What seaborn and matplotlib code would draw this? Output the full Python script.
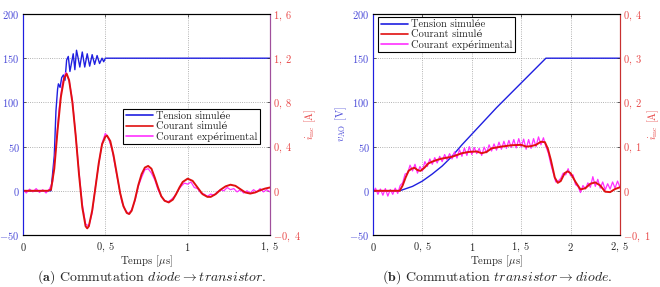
import numpy as np
import seaborn as sns
import matplotlib.pyplot as plt
from matplotlib.lines import Line2D

sns.set_style("white")
plt.rcParams['font.family'] = ['cmr10', 'DejaVu Serif']
plt.rcParams['mathtext.fontset'] = 'cm'
plt.rcParams['axes.unicode_minus'] = False

BLUE = '#1f1fe0'
RED = '#e01010'
MAGENTA = '#ff30ff'
BLUE_TXT = '#4a4ad8'
RED_TXT = '#e84848'

# ---------------- (a) commutation diode -> transistor ----------------
t_va = [0, 0.17, 0.19, 0.20, 0.21, 0.215, 0.225, 0.235, 0.245, 0.255, 0.265, 0.275,
        0.285, 0.295, 0.305, 0.315, 0.325, 0.335, 0.345, 0.36, 0.375, 0.39, 0.405,
        0.42, 0.435, 0.45, 0.465, 0.48, 0.49, 0.5, 1.5]
v_a = [0, 0, 40, 90, 115, 121, 117, 128, 131, 125, 148, 152,
       135, 145, 155, 137, 159, 150, 140, 157, 140, 155, 141,
       154, 143, 153, 144, 150, 146, 150, 150]

t_ia = [0, 0.15, 0.17, 0.19, 0.21, 0.23, 0.25, 0.265, 0.28, 0.30, 0.32, 0.34, 0.36,
        0.38, 0.39, 0.40, 0.42, 0.44, 0.46, 0.48, 0.50, 0.51, 0.53, 0.55, 0.57, 0.59,
        0.61, 0.63, 0.645, 0.66, 0.68, 0.70, 0.72, 0.74, 0.76, 0.78, 0.80, 0.82, 0.84,
        0.86, 0.885, 0.91, 0.93, 0.95, 0.97, 1.0, 1.03, 1.06, 1.09, 1.12, 1.14, 1.17,
        1.20, 1.23, 1.26, 1.29, 1.32, 1.35, 1.38, 1.41, 1.44, 1.47, 1.5]
i_sim_a = [0, 0, 0.01, 0.2, 0.55, 0.85, 1.02, 1.06, 1.0, 0.8, 0.5, 0.15, -0.15,
           -0.32, -0.34, -0.32, -0.18, 0.03, 0.25, 0.42, 0.49, 0.5, 0.45, 0.32, 0.15, -0.02,
           -0.14, -0.2, -0.21, -0.18, -0.08, 0.05, 0.15, 0.21, 0.225, 0.2, 0.12, 0.03, -0.05,
           -0.09, -0.105, -0.08, -0.03, 0.03, 0.08, 0.11, 0.09, 0.03, -0.03, -0.055, -0.055, -0.03,
           0.01, 0.04, 0.055, 0.045, 0.015, -0.015, -0.025, -0.015, 0.005, 0.02, 0.03]

# measured current, sampled every 0.02 us
i_exp_a = [0.01, -0.02, 0.015, -0.01, 0.02, -0.015, 0.01, -0.02, 0.015, 0.08,
           0.4, 0.75, 0.98, 1.07, 1.0, 0.82, 0.5, 0.17, -0.12, -0.3,
           -0.32, -0.2, 0.04, 0.24, 0.43, 0.52, 0.47, 0.38, 0.22, 0.06,
           -0.1, -0.17, -0.21, -0.17, -0.09, 0.04, 0.12, 0.19, 0.2, 0.16,
           0.1, 0.01, -0.05, -0.09, -0.1, -0.08, -0.05, 0.0, 0.04, 0.07,
           0.06, 0.08, 0.03, 0.02, -0.02, -0.03, -0.05, -0.03, -0.04, -0.01,
           0.01, 0.0, 0.03, 0.01, 0.02, -0.01, 0.01, -0.02, 0.0, -0.02,
           0.01, -0.01, 0.02, -0.01, 0.01, -0.01]
t_exp_a = np.linspace(0, 1.5, len(i_exp_a))

# ---------------- (b) commutation transistor -> diode ----------------
t_vb = [0, 0.27, 0.4, 0.5, 0.6, 0.7, 0.8, 0.9, 1.0, 1.25, 1.5, 1.75, 2.5]
v_b = [0, 0, 5, 11, 19, 28, 39, 52, 64, 94, 122, 150, 150]

t_ib = [0, 0.27, 0.3, 0.33, 0.36, 0.39, 0.42, 0.45, 0.48, 0.52, 0.56, 0.6, 0.65, 0.7,
        0.8, 0.9, 0.97, 1.05, 1.1, 1.15, 1.2, 1.3, 1.4, 1.5, 1.55, 1.6, 1.65, 1.7, 1.74,
        1.77, 1.8, 1.84, 1.87, 1.9, 1.94, 1.97, 2.0, 2.05, 2.1, 2.15, 2.2, 2.25, 2.3,
        2.35, 2.4, 2.45, 2.5]
i_sim_b = [0, 0, 0.012, 0.03, 0.045, 0.05, 0.052, 0.047, 0.045, 0.052, 0.062, 0.066, 0.07, 0.073,
           0.077, 0.085, 0.088, 0.089, 0.085, 0.088, 0.096, 0.1, 0.103, 0.104, 0.1, 0.101, 0.104, 0.111, 0.11,
           0.095, 0.07, 0.03, 0.018, 0.022, 0.04, 0.044, 0.04, 0.02, 0.003, 0.006, 0.016, 0.019, 0.012,
           -0.002, -0.003, 0.004, 0.008]

# measured current, sampled every 0.025 us
i_exp_b = [-0.005, 0.006, -0.008, 0.004, -0.01, 0.005, -0.012, 0.003, -0.008, 0.006,
           -0.006, 0.012, 0.018, 0.038, 0.040, 0.058, 0.045, 0.060, 0.040, 0.055,
           0.045, 0.066, 0.055, 0.072, 0.060, 0.075, 0.063, 0.078, 0.066, 0.082,
           0.070, 0.084, 0.072, 0.088, 0.074, 0.093, 0.078, 0.097, 0.080, 0.100,
           0.082, 0.098, 0.084, 0.096, 0.080, 0.099, 0.086, 0.104, 0.090, 0.106,
           0.092, 0.110, 0.094, 0.112, 0.096, 0.114, 0.098, 0.116, 0.097, 0.118,
           0.099, 0.117, 0.094, 0.116, 0.096, 0.118, 0.100, 0.122, 0.104, 0.120,
           0.100, 0.085, 0.060, 0.040, 0.020, 0.022, 0.028, 0.040, 0.036, 0.050,
           0.034, 0.036, 0.014, 0.010, -0.004, 0.012, 0.004, 0.018, 0.008, 0.032,
           0.010, 0.026, 0.006, 0.020, 0.002, 0.016, 0.004, 0.020, 0.006, 0.022,
           0.008]
t_exp_b = np.linspace(0, 2.5, len(i_exp_b))

labels = ['Tension simulée', 'Courant simulé', 'Courant expérimental']


def fmt(v):
    s = f"{v:g}".replace('.', r',\ ')
    return f"${s}$"


def panel(ax, t_v, v, t_i, i_sim, t_e, i_exp, xmax, xticks, rlim, rticks,
          rspine, vlabel, leg_anchor, rlabel_x):
    sns.lineplot(x=t_v, y=v, ax=ax, color=BLUE, linewidth=1.0, sort=False)
    ax2 = ax.twinx()
    sns.lineplot(x=t_e, y=i_exp, ax=ax2, color=MAGENTA, linewidth=0.9, sort=False)
    sns.lineplot(x=t_i, y=i_sim, ax=ax2, color=RED, linewidth=1.4, sort=False)

    ax.set_xlim(0, xmax)
    ax.set_ylim(-50, 200)
    ax2.set_ylim(*rlim)
    yt = [-50, 0, 50, 100, 150, 200]
    ax.set_xticks(xticks)
    ax.set_xticklabels([fmt(x) for x in xticks], fontsize=7.5)
    ax.set_yticks(yt)
    ax.set_yticklabels([fmt(y) for y in yt], fontsize=7.5, color=BLUE_TXT)
    ax2.set_yticks(rticks)
    ax2.set_yticklabels([fmt(y) for y in rticks], fontsize=7.5, color=RED_TXT)
    ax.grid(True, linestyle=':', color='#999999', linewidth=0.6)
    ax.tick_params(direction='in', length=2.5, width=0.5, top=True, pad=2.5)
    ax.tick_params(axis='x', pad=4)
    ax2.tick_params(direction='in', length=2.5, width=0.5, pad=2.5)
    ax.set_xlabel(r"Temps [$\mu$s]", fontsize=7.8, labelpad=0)
    ax.set_ylabel(vlabel, fontsize=7.8, color=BLUE_TXT, labelpad=0)
    ax2.set_ylabel(r"$i_{\mathrm{mc}}$ [A]", fontsize=7.5, color=RED_TXT)
    ax2.yaxis.set_label_coords(rlabel_x, 0.5)
    for a in (ax, ax2):
        for sp in a.spines.values():
            sp.set_color('black')
            sp.set_linewidth(0.8)
        a.spines['left'].set_color(BLUE)
        a.spines['right'].set_color(rspine)

    handles = [Line2D([], [], color=c, linewidth=1.2) for c in (BLUE, RED, MAGENTA)]
    leg = ax2.legend(handles, labels, loc='upper left', bbox_to_anchor=leg_anchor,
                     fontsize=7.5, frameon=True, fancybox=False, edgecolor='black',
                     framealpha=1, borderpad=0.25, labelspacing=0.05,
                     handlelength=2.6, handletextpad=0.3, borderaxespad=0)
    leg.get_frame().set_linewidth(0.8)
    return ax2


fig = plt.figure(figsize=(6.6, 2.87), dpi=100)
ax_a = fig.add_axes([23 / 660, 1 - 235 / 287, 247 / 660, 221 / 287])
ax_b = fig.add_axes([373 / 660, 1 - 235 / 287, 247 / 660, 221 / 287])

panel(ax_a, t_va, v_a, t_ia, i_sim_a, t_exp_a, i_exp_a, 1.5, [0, 0.5, 1, 1.5],
      (-0.4, 1.6), [-0.4, 0, 0.4, 0.8, 1.2, 1.6], '#a04f9c',
      '', (0.405, 0.57), 1.13)
panel(ax_b, t_vb, v_b, t_ib, i_sim_b, t_exp_b, i_exp_b, 2.5,
      [0, 0.5, 1, 1.5, 2, 2.5], (-0.1, 0.4), [-0.1, 0, 0.1, 0.2, 0.3, 0.4], '#c83030',
      r"$v_{\mathrm{AO}}$ [V]", (0.02, 0.986), 1.105)

fig.text(152 / 660, 1 - 277 / 287,
         r"$\mathbf{(a)}$ Commutation $\mathit{diode} \rightarrow \mathit{transistor}$.",
         ha='center', va='center', fontsize=10)
fig.text(497 / 660, 1 - 277 / 287,
         r"$\mathbf{(b)}$ Commutation $\mathit{transistor} \rightarrow \mathit{diode}$.",
         ha='center', va='center', fontsize=10)

fig.savefig('out.png', dpi=100)
